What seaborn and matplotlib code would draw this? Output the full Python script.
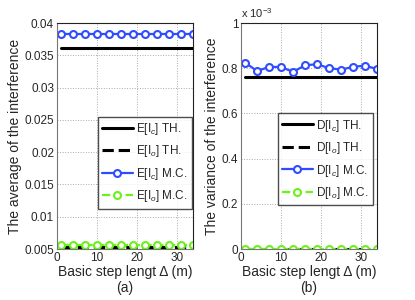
import pandas as pd
import numpy as np
import matplotlib.pyplot as plt
import matplotlib.ticker as mticker
import seaborn as sns

sns.set_style('white')
plt.rcParams['font.family'] = ['Liberation Sans', 'DejaVu Sans']
plt.rcParams['mathtext.fontset'] = 'custom'
plt.rcParams['mathtext.rm'] = 'Liberation Sans'
plt.rcParams['mathtext.it'] = 'Liberation Sans:italic'

step = [1, 4, 7, 10, 13, 16, 19, 22, 25, 28, 31, 34]

# (a) average of the interference
e_ic_th = [0.0362] * 12
e_io_th = [0.0053] * 12
e_ic_mc = [0.0383, 0.0383, 0.0383, 0.0383, 0.0383, 0.0383,
           0.0383, 0.0383, 0.0383, 0.0383, 0.0383, 0.0383]
e_io_mc = [0.0056, 0.0056, 0.0056, 0.0056, 0.0056, 0.0056,
           0.0056, 0.0056, 0.0056, 0.0056, 0.0056, 0.0056]

# (b) variance of the interference
d_ic_th = [0.76e-3] * 12
d_io_th = [0.0] * 12
d_ic_mc = [0.825e-3, 0.788e-3, 0.806e-3, 0.806e-3, 0.784e-3, 0.813e-3,
           0.818e-3, 0.801e-3, 0.794e-3, 0.806e-3, 0.812e-3, 0.797e-3]
d_io_mc = [0.0] * 12

blue = '#2f4dff'
green = '#6cf21a'

fig = plt.figure(figsize=(4.15, 3.0), dpi=100)
ax1 = fig.add_axes([0.137, 0.17, 0.328, 0.753])
ax2 = fig.add_axes([0.581, 0.17, 0.327, 0.753])


def draw(ax, th_c, th_o, mc_c, mc_o, sym):
    df = pd.DataFrame({'x': step, 'thc': th_c, 'tho': th_o, 'mcc': mc_c, 'mco': mc_o})
    sns.lineplot(data=df, x='x', y='thc', ax=ax, color='black', lw=2.2,
                 label=sym + '[I$_c$] TH.')
    sns.lineplot(data=df, x='x', y='tho', ax=ax, color='black', lw=2.2,
                 linestyle='--', label=sym + '[I$_o$] TH.')
    sns.lineplot(data=df, x='x', y='mcc', ax=ax, color=blue, lw=1.6,
                 marker='o', markersize=5, markerfacecolor='white',
                 markeredgecolor=blue, markeredgewidth=1.5,
                 label=sym + '[I$_c$] M.C.')
    sns.lineplot(data=df, x='x', y='mco', ax=ax, color=green, lw=1.6,
                 linestyle='--', marker='o', markersize=5, markerfacecolor='white',
                 markeredgecolor=green, markeredgewidth=1.5,
                 label=sym + '[I$_o$] M.C.')
    ax.set_xlim(0, 34)
    ax.set_xticks([0, 10, 20, 30])
    ax.grid(True, linestyle=':', color='#aaaaaa', lw=0.7)
    ax.tick_params(labelsize=8.5, direction='in', length=3, pad=2)
    for s in ax.spines.values():
        s.set_color('#222222')
        s.set_linewidth(0.8)
    ax.spines['left'].set_color('#777777')
    ax.spines['bottom'].set_color('#777777')


draw(ax1, e_ic_th, e_io_th, e_ic_mc, e_io_mc, 'E')
ax1.set_ylim(0.005, 0.04)
ax1.set_yticks(np.arange(0.005, 0.0401, 0.005))
ax1.yaxis.set_major_formatter(mticker.FuncFormatter(lambda v, p: ('%g' % round(v, 3))))
ax1.set_xlabel('Basic step lengt Δ (m)\n(a)', fontsize=10, labelpad=1, linespacing=1.2)
ax1.set_ylabel('The average of the interference', fontsize=10, labelpad=2)
ax1.legend(loc='upper left', bbox_to_anchor=(0.30, 0.585), fontsize=8.5,
           frameon=True, fancybox=False, edgecolor='#222222', handlelength=2.6,
           borderpad=0.35, labelspacing=0.55, handletextpad=0.3, borderaxespad=0)

draw(ax2, d_ic_th, d_io_th, d_ic_mc, d_io_mc, 'D')
ax2.set_ylim(0, 1e-3)
ax2.set_yticks(np.arange(0, 1.01e-3, 0.2e-3))
ax2.yaxis.set_major_formatter(mticker.FuncFormatter(lambda v, p: '%g' % round(v * 1e3, 1)))
ax2.text(0.0, 1.015, 'x 10$^{-3}$', transform=ax2.transAxes, fontsize=8, va='bottom')
ax2.set_xlabel('Basic step lengt Δ (m)\n(b)', fontsize=10, labelpad=1, linespacing=1.2)
ax2.set_ylabel('The variance of the interference', fontsize=10, labelpad=2)
ax2.legend(loc='upper left', bbox_to_anchor=(0.27, 0.60), fontsize=8.5,
           frameon=True, fancybox=False, edgecolor='#222222', handlelength=2.6,
           borderpad=0.35, labelspacing=0.55, handletextpad=0.3, borderaxespad=0)

fig.savefig('out.png', dpi=100)
